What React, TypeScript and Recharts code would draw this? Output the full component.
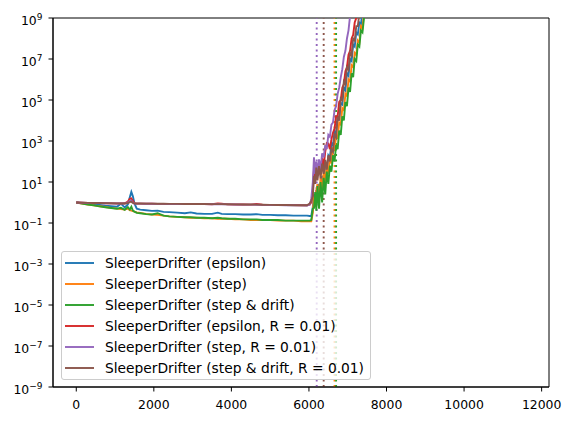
import React from 'react';
import { LineChart, Line, XAxis, YAxis, ReferenceLine, ReferenceArea, Legend } from 'recharts';

const FONT = 'DejaVu Sans';

// training steps (shared x grid for every run)
const steps = [
  0, 150, 300, 450, 600, 750, 900, 1050, 1150, 1250,
  1330, 1380, 1420, 1460, 1500, 1560, 1650, 1800, 1950, 2100,
  2250, 2400, 2600, 2800, 2950, 3100, 3300, 3500, 3650, 3750,
  3900, 4100, 4300, 4500, 4650, 4800, 5000, 5200, 5400, 5600,
  5800, 5950, 6020, 6060,
  6100, 6130, 6160, 6190, 6220, 6260, 6300, 6340, 6380, 6420,
  6460, 6500, 6540, 6580, 6620, 6660, 6700, 6740, 6780, 6820,
  6860, 6900, 6940, 6980, 7020, 7060, 7100, 7140, 7180, 7220,
  7260, 7300, 7340, 7380, 7420, 7460, 7500,
];

const epsilon = [
  1.0, 0.93, 0.86, 0.8, 0.76, 0.7, 0.66, 0.62, 0.88, 0.58,
  0.8, 1.8, 3.3, 2.0, 0.9, 0.5, 0.45, 0.42, 0.39, 0.4,
  0.35, 0.34, 0.32, 0.3, 0.33, 0.29, 0.28, 0.28, 0.32, 0.28,
  0.27, 0.27, 0.26, 0.26, 0.27, 0.25, 0.25, 0.24, 0.24, 0.23,
  0.23, 0.23, 0.22, 0.22,
  0.6, 2.5, 1.2, 4, 2, 8, 5, 20, 12, 60,
  40, 200, 150, 800, 600, 3000, 2500, 1.5e4, 1.2e4, 7e4,
  6e4, 4e5, 3e5, 2e6, 1.5e6, 1e7, 8e6, 5e7, 4e7, 2e8,
  1.6e8, 6e8, 5e8, 2e9, 4e9, 1e10, 2e10,
];

const stepRun = [
  1.0, 0.9, 0.8, 0.72, 0.66, 0.6, 0.55, 0.5, 0.48, 0.45,
  0.5, 0.42, 0.4, 0.38, 0.36, 0.33, 0.31, 0.28, 0.26, 0.25,
  0.23, 0.21, 0.2, 0.19, 0.18, 0.18, 0.17, 0.17, 0.16, 0.16,
  0.16, 0.15, 0.15, 0.14, 0.14, 0.14, 0.14, 0.13, 0.13, 0.13,
  0.12, 0.12, 0.12, 0.12,
  0.32, 2.0, 0.63, 4.0, 7.9, 1.6, 16, 4, 32, 10,
  63, 25, 160, 79, 500, 316, 2000, 1260, 7900, 6300,
  4e4, 3.2e4, 2e5, 1.6e5, 1e6, 8e5, 5e6, 4e6, 2e7, 1.6e7,
  8e7, 6.3e7, 4e8, 3.2e8, 2e9, 6e9, 1e10,
];

const stepDrift = [
  1.0, 0.9, 0.8, 0.72, 0.65, 0.59, 0.54, 0.5, 0.55, 0.44,
  0.6, 0.45, 0.62, 0.4, 0.36, 0.31, 0.3, 0.27, 0.26, 0.3,
  0.23, 0.21, 0.2, 0.19, 0.19, 0.18, 0.18, 0.17, 0.18, 0.17,
  0.16, 0.16, 0.15, 0.15, 0.15, 0.14, 0.14, 0.14, 0.13, 0.13,
  0.13, 0.13, 0.13, 0.14,
  0.5, 0.54, 3.2, 0.4, 6.3, 0.5, 10, 1.0, 16, 2.5,
  32, 8, 63, 32, 200, 100, 630, 400, 3200, 2000,
  1.6e4, 1e4, 8e4, 5e4, 4e5, 2.5e5, 2e6, 1.3e6, 1e7, 8e6,
  5e7, 4e7, 2.5e8, 2e8, 1e9, 3e9, 8e9,
];

const epsilonR = [
  1.0, 0.98, 0.96, 0.95, 0.93, 0.92, 0.91, 0.9, 0.9, 0.92,
  1.1, 1.5, 1.6, 1.2, 0.92, 0.88, 0.88, 0.87, 0.87, 0.86,
  0.86, 0.85, 0.85, 0.84, 0.84, 0.83, 0.83, 0.82, 0.9, 0.88,
  0.81, 0.8, 0.8, 0.79, 0.85, 0.78, 0.77, 0.77, 0.76, 0.75,
  0.74, 0.74, 0.78, 1.0,
  3.2, 40, 10, 60, 20, 100, 30, 150, 60, 300,
  800, 750, 400, 1200, 2500, 4000, 1.6e4, 1.6e4, 8e4, 1e5,
  4e5, 6e5, 2.5e6, 4e6, 1.6e7, 2.5e7, 1e8, 1.5e8, 6e8, 1e9,
  3e9, 6e9, 1.2e10, 2.5e10, 5e10, 1e11, 2e11,
];

const stepR = [
  1.0, 0.97, 0.95, 0.94, 0.93, 0.92, 0.91, 0.9, 0.89, 0.89,
  1.0, 1.2, 1.25, 1.0, 0.89, 0.88, 0.88, 0.87, 0.87, 0.86,
  0.86, 0.85, 0.85, 0.84, 0.84, 0.83, 0.83, 0.82, 0.82, 0.82,
  0.81, 0.8, 0.79, 0.79, 0.78, 0.77, 0.76, 0.75, 0.74, 0.73,
  0.72, 0.72, 0.8, 1.5,
  10, 160, 25, 100, 32, 126, 40, 250, 160, 630,
  400, 2000, 1600, 6300, 8000, 3.2e4, 5e4, 2e5, 4e5, 1.26e6,
  3.2e6, 1.26e7, 2.5e7, 1e8, 2.5e8, 1.26e9, 4e9, 1e10, 2e10, 4e10,
  8e10, 1.5e11, 3e11, 6e11, 1e12, 2e12, 4e12,
];

const stepDriftR = [
  1.0, 0.98, 0.96, 0.95, 0.94, 0.93, 0.92, 0.91, 0.9, 0.9,
  0.95, 1.05, 1.1, 0.95, 0.9, 0.89, 0.89, 0.88, 0.88, 0.87,
  0.87, 0.86, 0.86, 0.85, 0.85, 0.84, 0.84, 0.83, 0.83, 0.83,
  0.82, 0.81, 0.8, 0.8, 0.79, 0.78, 0.77, 0.76, 0.75, 0.74,
  0.73, 0.73, 0.9, 1.2,
  2.0, 20, 8, 50, 12, 60, 15, 80, 25, 120,
  40, 200, 100, 400, 300, 2000, 1500, 1.5e4, 1e4, 1.2e5,
  1e5, 8e5, 6e5, 4e6, 3e6, 2e7, 1.5e7, 1e8, 8e7, 4e8,
  4e8, 1.6e9, 4e9, 1e10, 2e10, 4e10, 8e10,
];

// step at which each run was flagged (dotted markers)
const flagSteps = [
  { key: 'stepR', x: 6200, color: '#9467bd' },
  { key: 'stepDriftR', x: 6380, color: '#8c564b' },
  { key: 'stepRun', x: 6660, color: '#ff7f0e' },
  { key: 'stepDrift', x: 6700, color: '#2ca02c' },
];

const xTicks = [0, 2000, 4000, 6000, 8000, 10000, 12000];
const yTicks = [1e-9, 1e-7, 1e-5, 1e-3, 1e-1, 1e1, 1e3, 1e5, 1e7, 1e9];

const SERIES = [
  { key: 'epsilon', name: 'SleeperDrifter (epsilon)', color: '#1f77b4', values: epsilon },
  { key: 'stepRun', name: 'SleeperDrifter (step)', color: '#ff7f0e', values: stepRun },
  { key: 'stepDrift', name: 'SleeperDrifter (step & drift)', color: '#2ca02c', values: stepDrift },
  { key: 'epsilonR', name: 'SleeperDrifter (epsilon, R = 0.01)', color: '#d62728', values: epsilonR },
  { key: 'stepR', name: 'SleeperDrifter (step, R = 0.01)', color: '#9467bd', values: stepR },
  { key: 'stepDriftR', name: 'SleeperDrifter (step & drift, R = 0.01)', color: '#8c564b', values: stepDriftR },
];

const rows = steps.map((s, i) => {
  const row: any = { iter: s };
  SERIES.forEach((d) => { row[d.key] = d.values[i]; });
  return row;
});

const LogTick = ({ x, y, payload }: any) => {
  const exp = Math.round(Math.log10(payload.value));
  const sup = exp < 0 ? `\u2212${-exp}` : `${exp}`;
  return (
    <text x={x} y={y} dy={7.3} textAnchor="end" fontFamily={FONT} fontSize={12.4} fill="#000">
      10<tspan fontSize={9} dy={-5.3}>{sup}</tspan>
    </text>
  );
};

const LegendBox = () => (
  <div
    style={{
      width: 310, height: 129, boxSizing: 'border-box', border: '1px solid #cccccc', borderRadius: 3,
      background: 'rgba(255,255,255,0.8)', paddingTop: 0.8, paddingLeft: 3.3,
      fontFamily: FONT, fontSize: 13.8, color: '#000',
    }}
  >
    {SERIES.map((s) => (
      <div key={s.key} style={{ display: 'flex', alignItems: 'center', height: 20.9, whiteSpace: 'nowrap' }}>
        <svg width={29} height={4} style={{ marginRight: 11, flexShrink: 0 }}>
          <line x1={0} y1={2} x2={29} y2={2} stroke={s.color} strokeWidth={1.9} />
        </svg>
        <span>{s.name}</span>
      </div>
    ))}
  </div>
);

export default function App() {
  return (
    <div style={{ position: 'absolute', left: 0, top: 0, width: 573, height: 421, background: '#fff' }}>
      <LineChart width={573} height={421} data={rows} margin={{ top: 18, right: 24, bottom: 0, left: 0 }}>
        <XAxis
          dataKey="iter" type="number" domain={[-600, 12190]} ticks={xTicks} interval={0}
          allowDataOverflow height={34} tickSize={4.5} tickMargin={8.2} stroke="#000"
          tick={{ fill: '#000', fontSize: 12.4, fontFamily: FONT }}
        />
        <YAxis
          type="number" scale="log" domain={[1e-9, 1e9]} ticks={yTicks} interval={0}
          allowDataOverflow width={53} tickSize={4.5} tickMargin={6} stroke="#000" tick={<LogTick />}
        />
        <ReferenceArea x1={-600} x2={12190} y1={1e-9} y2={1e9} fill="none" stroke="#000" strokeWidth={1} />
        {flagSteps.map((f) => (
          <ReferenceLine key={f.key} x={f.x} stroke={f.color} strokeWidth={1.9} strokeDasharray="2 3.5" />
        ))}
        {SERIES.map((s) => (
          <Line
            key={s.key} dataKey={s.key} name={s.name} type="linear" stroke={s.color}
            strokeWidth={1.9} dot={false} activeDot={false} isAnimationActive={false}
          />
        ))}
        <Legend
          layout="vertical" align="center" verticalAlign="middle" content={<LegendBox />}
          wrapperStyle={{ left: 60.7, top: 251, width: 310, height: 129 }}
        />
      </LineChart>
    </div>
  );
}
